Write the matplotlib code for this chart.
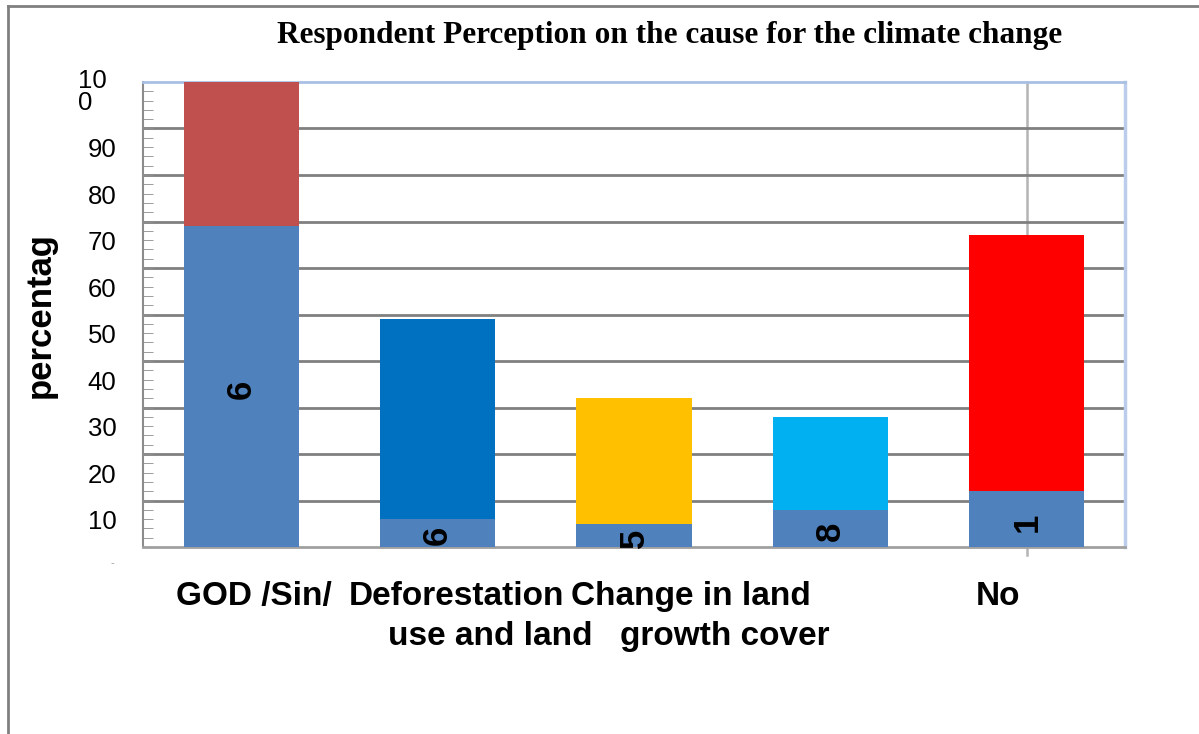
import matplotlib
matplotlib.use("Agg")
import matplotlib.pyplot as plt
from matplotlib.lines import Line2D
from matplotlib.ticker import MultipleLocator
import matplotlib.transforms as mtransforms

plt.rcParams['font.family'] = ['Liberation Sans', 'DejaVu Sans']

# data
categories = ['GOD /Sin/', 'Deforestation', 'Change in land', 'growth cover', 'No']
base_vals = [69, 6, 5, 8, 12]
upper_vals = [31, 43, 27, 20, 55]
upper_colors = ['#C0504D', '#0070C0', '#FFC000', '#00B0F0', '#FF0000']
base_color = '#4F81BD'
bar_labels = ['6', '6', '5', '8', '1']

# category text as it sits under the axis (x in category units, row)
cat_texts = [('GOD /Sin/', 0.065, 0), ('Deforestation', 1.094, 0),
             ('use and land', 1.267, 1), ('Change in land', 2.29, 0),
             ('growth cover', 2.463, 1), ('No', 3.853, 0)]

y_major = list(range(10, 100, 10))

W, H = 1199, 734
fig = plt.figure(figsize=(W / 100, H / 100), dpi=100)
ax = fig.add_axes([143 / W, 1 - 547 / H, (1125 - 143) / W, (547 - 82) / H])

x = list(range(len(categories)))
ax.bar(x, base_vals, width=0.586, color=base_color, zorder=3)
ax.bar(x, upper_vals, width=0.586, bottom=base_vals, color=upper_colors, zorder=3)

for xi, b, lab in zip(x, base_vals, bar_labels):
    ax.text(xi, b / 2 - 0.6, lab, rotation=90, ha='center', va='center',
            fontsize=25, fontweight='bold', zorder=4)

ax.set_xlim(-0.5, 4.5)
ax.set_ylim(0, 100)
ax.set_xticks([])
ax.set_yticks(y_major)
ax.yaxis.set_minor_locator(MultipleLocator(2))
ax.tick_params(axis='y', which='both', direction='in', length=7,
               color='#8C8C8C', labelleft=False)
ax.grid(axis='y', color='#808080', lw=2, zorder=1)
ax.axvline(4, ymin=-0.018, ymax=1, color='#B4B4B4', lw=1.8, zorder=1, clip_on=False)

ax.spines['left'].set_color('#8C8C8C')
ax.spines['left'].set_linewidth(1.5)
ax.spines['bottom'].set_color('#A0A0A0')
ax.spines['bottom'].set_linewidth(2)
ax.spines['top'].set_color('#A9C0E4')
ax.spines['top'].set_linewidth(2)
ax.spines['right'].set_color('#BBCDEA')
ax.spines['right'].set_linewidth(2.5)

# y labels sit half a step below their gridlines
trans = mtransforms.blended_transform_factory(ax.transAxes, ax.transData)
for v in y_major:
    ax.text(-0.027, v - 4.7, str(v), transform=trans, ha='right', va='center',
            fontsize=18.5, clip_on=False)
ax.text(-0.066, 97.8, '10\n0', transform=trans, ha='left', va='center',
        fontsize=18.5, linespacing=0.88)
ax.text(-0.031, -3.4, '-', transform=trans, ha='center', va='center',
        fontsize=8, color='#999999')

cat_trans = mtransforms.blended_transform_factory(ax.transData, ax.transAxes)
for txt, xp, row in cat_texts:
    ax.text(xp, -0.1075 - row * 0.084, txt, transform=cat_trans,
            ha='center', va='center', fontsize=24, fontweight='bold')

fig.text(40 / W, 1 - 315 / H, 'percentag', rotation=90, ha='center', va='center',
         fontsize=25, fontweight='bold')
fig.text(670 / W, 1 - 35 / H, 'Respondent Perception on the cause for the climate change',
         ha='center', va='center', fontsize=22.5, fontweight='bold',
         family=['Liberation Serif', 'DejaVu Serif'])

# outer frame of the picture
fig.add_artist(Line2D([8 / W, 8 / W], [0, 1 - 6 / H], color='#808080', lw=2))
fig.add_artist(Line2D([8 / W, 1], [1 - 6 / H, 1 - 6 / H], color='#808080', lw=2))

fig.savefig('out.png', dpi=100)
